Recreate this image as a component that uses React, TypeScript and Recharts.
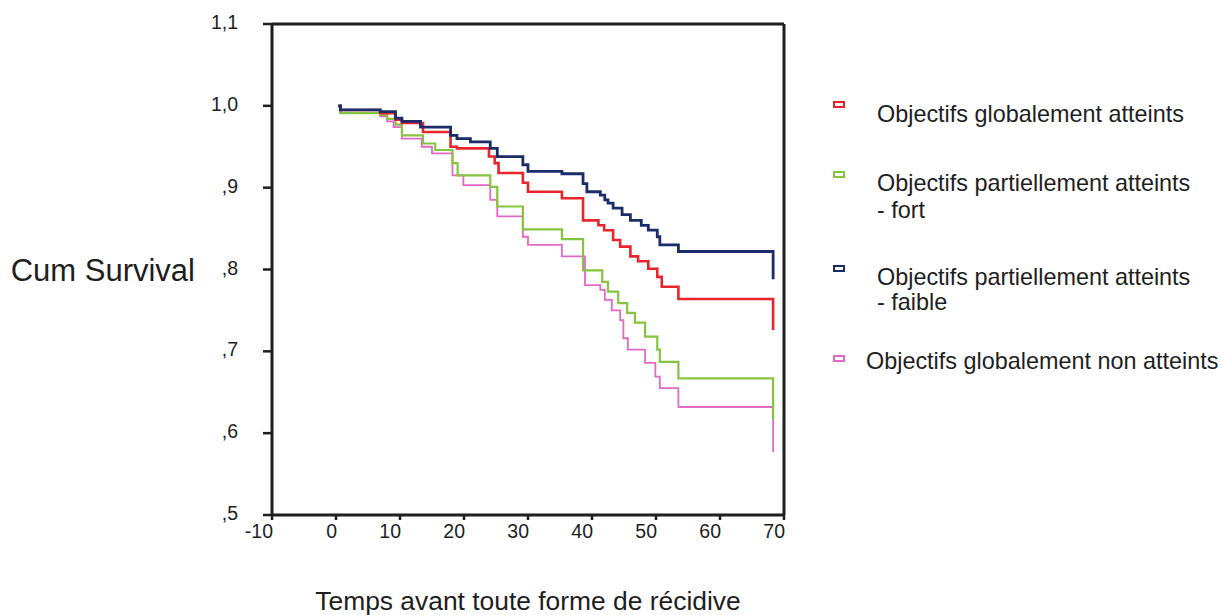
import { LineChart, Line, XAxis, YAxis, ReferenceLine } from "recharts";

// Kaplan-Meier steps: time (months) / cumulative survival
const redTimes = [0.35, 0.7, 6.9, 9.3, 10.3, 13.6, 17.9, 18.9, 23.9, 24.8, 25.4, 29.2, 30.0, 35.3, 38.6, 41.0, 41.9, 43.3, 44.4, 46.0, 47.2, 48.8, 50.2, 50.9, 53.5, 68.3];
const redSurv = [1.0, 0.995, 0.991, 0.983, 0.979, 0.968, 0.95, 0.948, 0.938, 0.93, 0.918, 0.906, 0.895, 0.887, 0.86, 0.854, 0.848, 0.836, 0.828, 0.816, 0.81, 0.801, 0.791, 0.779, 0.764, 0.726];

const greenTimes = [0.35, 0.7, 6.9, 8.0, 9.3, 10.3, 13.6, 15.5, 18.2, 19.0, 24.1, 25.2, 29.2, 35.3, 38.6, 41.6, 42.5, 44.1, 45.5, 46.7, 48.3, 50.2, 50.6, 53.5, 68.3];
const greenSurv = [1.0, 0.991, 0.989, 0.984, 0.977, 0.964, 0.954, 0.946, 0.93, 0.915, 0.901, 0.877, 0.849, 0.837, 0.799, 0.785, 0.773, 0.759, 0.747, 0.735, 0.718, 0.702, 0.687, 0.667, 0.616];

const navyTimes = [0.35, 0.7, 6.9, 9.3, 10.3, 13.2, 17.9, 18.9, 21.0, 24.1, 25.2, 29.2, 30.0, 35.3, 38.6, 39.2, 41.3, 42.0, 42.5, 43.3, 44.7, 46.0, 47.7, 48.8, 50.2, 50.6, 53.5, 68.3];
const navySurv = [1.0, 0.995, 0.993, 0.985, 0.981, 0.974, 0.964, 0.96, 0.956, 0.948, 0.938, 0.928, 0.92, 0.917, 0.905, 0.895, 0.891, 0.885, 0.881, 0.875, 0.867, 0.86, 0.854, 0.848, 0.84, 0.83, 0.822, 0.788];

const pinkTimes = [0.35, 0.7, 6.9, 8.0, 9.0, 10.3, 13.4, 15.0, 18.2, 19.9, 24.1, 25.2, 29.2, 30.0, 35.3, 38.9, 41.3, 42.0, 43.1, 44.4, 44.9, 45.6, 48.3, 49.9, 50.6, 53.5, 68.3];
const pinkSurv = [1.0, 0.991, 0.987, 0.981, 0.974, 0.96, 0.95, 0.942, 0.915, 0.903, 0.885, 0.865, 0.84, 0.83, 0.816, 0.781, 0.775, 0.763, 0.75, 0.738, 0.716, 0.702, 0.686, 0.669, 0.655, 0.632, 0.577];

const xTicks = [-10, 0, 10, 20, 30, 40, 50, 60, 70];
const yTicks = [0.5, 0.6, 0.7, 0.8, 0.9, 1.0, 1.1];

const legendItems = [
  { lines: ["Objectifs globalement atteints"], color: "#e8242c" },
  { lines: ["Objectifs partiellement atteints", "- fort"], color: "#86c440" },
  { lines: ["Objectifs partiellement atteints", "- faible"], color: "#1b2c6b" },
  { lines: ["Objectifs globalement non atteints"], color: "#e468c8" }
];

const toRows = (t: number[], s: number[]) => t.map((v, i) => ({ t: v, s: s[i] }));

const ink = "#1e1e1e";
const font = "'Liberation Sans', Arial, sans-serif";

const fmtY = (v: number) => (v >= 1 ? v.toFixed(1).replace(".", ",") : "," + Math.round(v * 10));

// SPSS puts the x labels flush right against their tick
const XTick = (props: any) => {
  const { x, y, payload } = props;
  return (
    <text x={x + 1} y={y + 16} textAnchor="end" fontSize={19.5} fill={ink} fontFamily={font}>
      {payload.value}
    </text>
  );
};

const YTick = (props: any) => {
  const { y, payload } = props;
  return (
    <text x={238} y={y} dy={-2} dominantBaseline="central" textAnchor="end" fontSize={19.5} fill={ink} fontFamily={font}>
      {fmtY(payload.value)}
    </text>
  );
};

// legend geometry (marker box top, baselines of text lines, text left)
const legendPos = [
  { box: 101, base: [123], left: 877, boxLeft: 833 },
  { box: 171, base: [192, 219], left: 877, boxLeft: 833 },
  { box: 265, base: [286, 311], left: 877, boxLeft: 833 },
  { box: 355, base: [370], left: 866, boxLeft: 833 }
];

export default function App() {
  return (
    <div style={{ position: "absolute", left: 0, top: 0, width: 1221, height: 615, background: "#fff", fontFamily: font }}>
      <LineChart width={1221} height={615} margin={{ left: 212, right: 437, top: 24, bottom: 70 }}>
        <XAxis
          type="number"
          dataKey="t"
          domain={[-10, 70]}
          ticks={xTicks}
          allowDataOverflow
          axisLine={{ stroke: ink, strokeWidth: 3 }}
          tickLine={{ stroke: ink, strokeWidth: 2.5 }}
          tickSize={5}
          height={30}
          tick={<XTick />}
          label={{ value: "Temps avant toute forme de récidive", position: "bottom", offset: 46, fontSize: 26.4, fill: ink, fontFamily: font }}
        />
        <YAxis
          type="number"
          dataKey="s"
          domain={[0.5, 1.1]}
          ticks={yTicks}
          allowDataOverflow
          width={60}
          axisLine={{ stroke: ink, strokeWidth: 3 }}
          tickLine={{ stroke: ink, strokeWidth: 2.5 }}
          tickSize={9}
          tick={<YTick />}
          label={{ value: "Cum Survival", position: "left", offset: 17, fontSize: 31, fill: ink, fontFamily: font }}
        />
        <ReferenceLine y={1.1} stroke={ink} strokeWidth={3} />
        <ReferenceLine x={70} stroke={ink} strokeWidth={3} />
        <Line data={toRows(pinkTimes, pinkSurv)} dataKey="s" type="stepAfter" stroke="#e468c8" strokeWidth={1.8} dot={false} isAnimationActive={false} />
        <Line data={toRows(greenTimes, greenSurv)} dataKey="s" type="stepAfter" stroke="#86c440" strokeWidth={2.2} dot={false} isAnimationActive={false} />
        <Line data={toRows(redTimes, redSurv)} dataKey="s" type="stepAfter" stroke="#e8242c" strokeWidth={2.6} dot={false} isAnimationActive={false} />
        <Line data={toRows(navyTimes, navySurv)} dataKey="s" type="stepAfter" stroke="#1b2c6b" strokeWidth={2.8} dot={false} isAnimationActive={false} />
      </LineChart>
      {legendItems.map((item, i) => {
        const p = legendPos[i];
        return (
          <div key={i}>
            <div style={{ position: "absolute", left: p.boxLeft, top: p.box, width: 8, height: 3, border: `2.5px solid ${item.color}`, background: "#fff" }} />
            {item.lines.map((line, j) => (
              <div key={j} style={{ position: "absolute", left: p.left, top: p.base[j] - 19.8, fontSize: 23.4, lineHeight: "23.4px", color: ink, whiteSpace: "nowrap" }}>
                {line}
              </div>
            ))}
          </div>
        );
      })}
    </div>
  );
}
